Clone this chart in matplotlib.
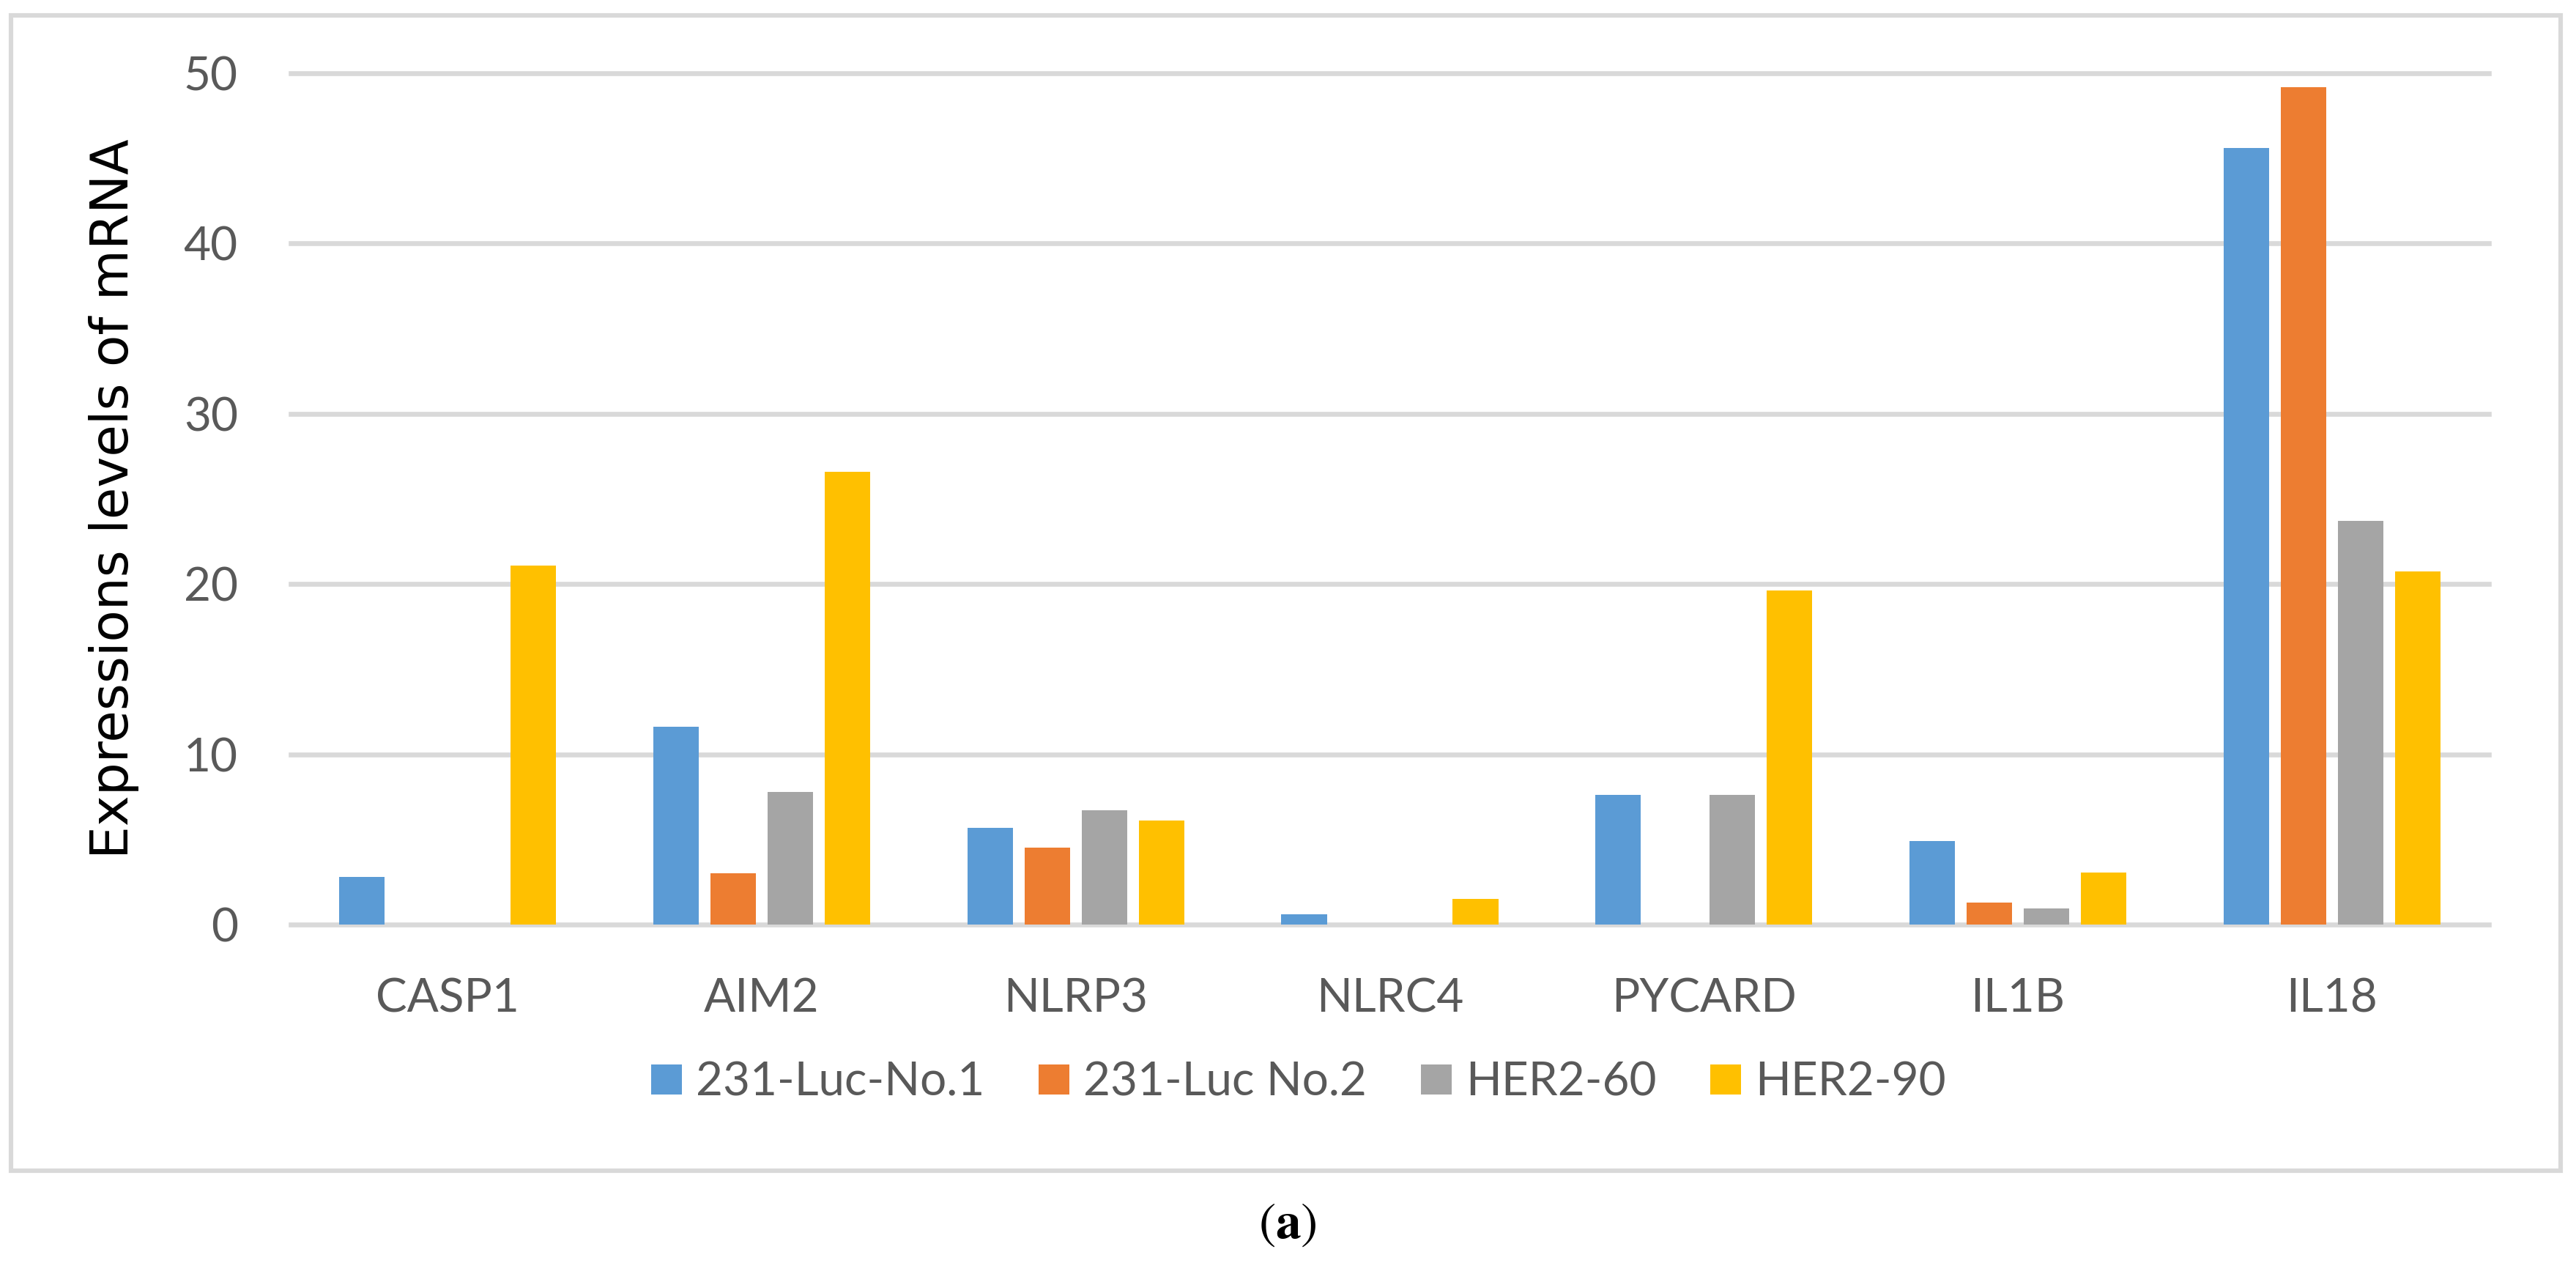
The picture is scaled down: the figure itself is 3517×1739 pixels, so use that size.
import matplotlib
matplotlib.use("Agg")
import matplotlib.pyplot as plt
from matplotlib.patches import Rectangle
import numpy as np

genes = ['CASP1', 'AIM2', 'NLRP3', 'NLRC4', 'PYCARD', 'IL1B', 'IL18']
luc1 = [2.8, 11.6, 5.7, 0.6, 7.6, 4.9, 45.6]
luc2 = [0, 3.0, 4.5, 0, 0, 1.3, 49.2]
her60 = [0, 7.8, 6.7, 0, 7.6, 0.95, 23.7]
her90 = [21.1, 26.6, 6.1, 1.5, 19.6, 3.05, 20.75]
series_names = ['231-Luc-No.1', '231-Luc No.2', 'HER2-60', 'HER2-90']
series_colors = ['#5B9BD5', '#ED7D31', '#A5A5A5', '#FFC000']
yticks = [0, 10, 20, 30, 40, 50]

W, H = 3517, 1739
DPI = 200
fig = plt.figure(figsize=(W / DPI, H / DPI), dpi=DPI)

def px(x0, y0, x1, y1):
    # pixel box (top-left origin) -> figure fraction rect
    return [x0 / W, 1 - y1 / H, (x1 - x0) / W, (y1 - y0) / H]

# chart border
fig.patches.append(Rectangle((15 / W, 1 - 1598 / H), (3496 - 15) / W, (1598 - 21) / H,
                             transform=fig.transFigure, fill=False,
                             edgecolor='#D9D9D9', linewidth=2.2))

ax = fig.add_axes(px(397, 100, 3398, 1262))
x = np.arange(len(genes))
bw = 0.145
step = 0.182
for i, (vals, name, c) in enumerate(zip([luc1, luc2, her60, her90], series_names, series_colors)):
    ax.bar(x + (i - 1.5) * step, vals, width=bw, color=c, label=name, zorder=3)

ax.set_xlim(-0.5, len(genes) - 0.5)
ax.set_ylim(0, 50)
ax.set_yticks(yticks)
ax.set_xticks(x)
ax.set_xticklabels(genes)
for s in ax.spines.values():
    s.set_visible(False)
ax.tick_params(axis='both', length=0, labelsize=23, labelcolor='#595959', pad=26)
for lab in ax.get_xticklabels() + ax.get_yticklabels():
    lab.set_family('Lato')
ax.yaxis.grid(True, color='#D9D9D9', linewidth=2.4, zorder=0)
for gl in ax.get_ygridlines():
    gl.set_clip_on(False)
ax.set_axisbelow(True)

fig.text(156 / W, 1 - 681 / H, 'Expressions levels of mRNA', rotation=90,
         ha='center', va='center', fontsize=25.5, color='black', family='DejaVu Sans')

leg = fig.legend(loc='center', bbox_to_anchor=(1773 / W, 1 - 1478 / H), ncol=4,
                 frameon=False, handlelength=0.66, handleheight=0.63,
                 handletextpad=0.3, columnspacing=1.15,
                 prop={'family': 'Lato', 'size': 23})
for t in leg.get_texts():
    t.set_color('#595959')

plt.rcParams['mathtext.fontset'] = 'stix'
fig.text(1758 / W, 1 - 1671 / H, r'$(\mathbf{a})$', ha='center', va='center',
         fontsize=25, color='black')

fig.savefig('out.png', dpi=DPI)
